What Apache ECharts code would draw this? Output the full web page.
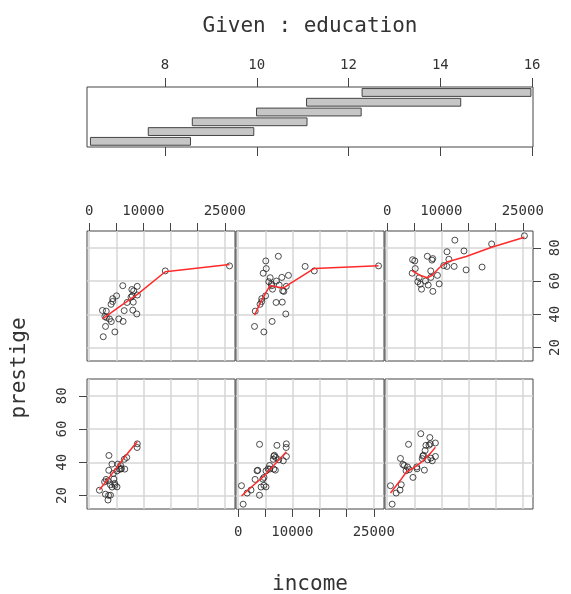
<!DOCTYPE html>
<html>
<head>
<meta charset="utf-8">
<script src="https://cdn.jsdelivr.net/npm/echarts@6/dist/echarts.min.js"></script>
<style>
  html, body { margin: 0; padding: 0; background: #fff; }
  #chart { width: 571px; height: 594px; }
</style>
</head>
<body>
<div id="chart"></div>
<script>
// coplot: prestige ~ income | education (6 overlapping education intervals)

const education = [13.11, 12.26, 12.77, 11.42, 14.62, 15.64, 15.09, 15.44, 14.52, 14.64,
  12.39, 12.30, 13.83, 14.44, 14.36, 14.21, 15.77, 14.15, 15.22, 14.50,
  15.97, 13.62, 15.08, 15.96, 15.94, 14.71, 12.46, 9.45, 13.62, 15.21,
  12.79, 11.09, 12.71, 11.44, 11.59, 11.49, 11.32, 10.64, 11.36, 9.17,
  12.09, 11.04, 9.22, 10.07, 10.51, 11.20, 11.13, 11.43, 11.00, 9.84,
  11.13, 10.05, 9.62, 9.93, 11.60, 11.09, 11.03, 9.47, 10.93, 7.74,
  8.50, 10.57, 9.46, 7.33, 7.11, 7.58, 6.84, 8.60, 8.88, 7.54,
  7.64, 7.64, 7.42, 6.69, 6.74, 10.09, 8.81, 8.40, 7.92, 8.43,
  8.78, 8.76, 10.29, 6.38, 8.10, 10.10, 6.67, 9.05, 9.93, 8.24,
  6.92, 6.60, 7.81, 8.33, 7.52, 12.27, 8.49, 7.58, 7.93, 8.37,
  10.00, 8.55];

const income = [12351, 25879, 9271, 8865, 8403, 11030, 8258, 14163, 11377, 11023,
  5902, 7059, 8425, 8049, 7405, 6336, 19263, 6112, 9593, 4686,
  12480, 5648, 8034, 25308, 14558, 17498, 4614, 3485, 5092, 10432,
  5180, 6197, 7562, 8206, 4036, 3148, 4348, 2448, 4330, 4761,
  3016, 2901, 5511, 3739, 3161, 4741, 5052, 6259, 4075, 7482,
  8780, 2594, 918, 2370, 8131, 6992, 7956, 8895, 8891, 3116,
  3930, 7869, 611, 3000, 3472, 3582, 3643, 1656, 6860, 4199,
  5134, 5134, 1890, 4443, 3485, 8043, 6686, 6565, 6477, 5811,
  6573, 3942, 5449, 2847, 5795, 7716, 4696, 8316, 7147, 8880,
  5299, 5959, 4549, 6928, 3910, 14032, 8845, 5562, 4224, 4753,
  6462, 3617];

const prestige = [68.8, 69.1, 63.4, 56.8, 73.5, 77.6, 72.6, 78.1, 73.1, 68.8,
  62.0, 60.0, 53.8, 62.2, 74.9, 55.1, 82.3, 58.1, 58.3, 72.8,
  84.6, 59.6, 66.1, 87.2, 66.7, 68.4, 64.7, 34.9, 72.1, 69.3,
  67.5, 57.2, 57.6, 54.1, 46.0, 41.9, 49.4, 42.3, 47.7, 30.9,
  32.7, 38.7, 36.1, 37.2, 38.1, 29.4, 51.1, 35.7, 35.6, 41.5,
  40.2, 26.5, 14.8, 23.3, 47.3, 47.1, 51.1, 43.5, 51.6, 29.7,
  20.2, 54.9, 25.9, 20.8, 17.3, 20.1, 44.1, 21.5, 35.3, 38.9,
  25.2, 34.8, 23.2, 33.3, 28.8, 42.5, 44.2, 35.9, 41.8, 35.9,
  43.7, 50.8, 37.2, 28.2, 38.1, 50.3, 27.3, 40.9, 50.2, 51.1,
  38.9, 36.2, 29.9, 42.9, 26.5, 66.1, 48.9, 35.9, 25.1, 26.1,
  42.2, 35.2];

// education intervals (given panel), lowest first
const eduLo = [6.375, 7.635, 8.595, 9.995, 11.085, 12.295];
const eduHi = [8.555, 9.935, 11.095, 12.275, 14.445, 15.975];

// red smoother per panel (panel 1 = bottom left)
const smooth1 = [[1890, 23.5], [3500, 30], [5000, 36.5], [6500, 43], [8880, 52.5]];
const smooth2 = [[611, 19.7], [2500, 25.3], [4630, 31.3], [6800, 39], [8895, 46.3]];
const smooth3 = [[611, 21.5], [2400, 29], [3500, 34], [5000, 37], [6500, 40.5], [8000, 45.5], [8895, 49]];
const smooth4 = [[2448, 37.2], [4000, 40.8], [6000, 45.5], [8000, 50], [8891, 52], [14032, 65.6], [25879, 70]];
const smooth5 = [[3016, 39.5], [4330, 48.5], [5860, 57.3], [7000, 56.5], [8320, 55.8], [9271, 57.8], [12351, 64.2], [14032, 67.6], [25879, 69.2]];
const smooth6 = [[4614, 66.2], [6000, 63.5], [7400, 62], [8300, 63.5], [9600, 68], [11000, 71.5], [12480, 72.8], [14558, 74.8], [19263, 80.3], [25308, 86.3]];
const smooths = [smooth1, smooth2, smooth3, smooth4, smooth5, smooth6];

// ticks and ranges
const eduTicks = [8, 10, 12, 14, 16];
const incomeTicks = [0, 5000, 10000, 15000, 20000, 25000];
const incomeLabels = [0, 10000, 25000];
const prestigeTicks = [20, 40, 60, 80];
const eduRange = [6.3, 16.02];
const incomeRange = [-400, 26890];
const prestigeRange = [11.9, 90.1];

const FONT = 'DejaVu Sans Mono';
const TXT = '#333';
const BORDER = '#444';
const GRIDLINE = '#d6d6d6';

const panelLeft = [87, 236, 385];
const rowTop = [379, 231]; // bottom row, top row
const PW = 148, PH = 130;

const grids = [{ left: 87, top: 87, width: 446, height: 60, show: true,
  borderColor: BORDER, borderWidth: 1, outerBoundsMode: 'none' }];

const tickLabel = { fontFamily: FONT, fontSize: 14, color: TXT, formatter: v => String(v) };
const noLine = { show: false, onZero: false };

const xAxes = [
  { gridIndex: 0, type: 'value', min: eduRange[0], max: eduRange[1], position: 'top',
    axisLine: noLine,
    axisTick: { customValues: eduTicks, length: 9, lineStyle: { color: BORDER } },
    axisLabel: { ...tickLabel, customValues: eduTicks, margin: 15 },
    splitLine: { show: false } },
  { gridIndex: 0, type: 'value', min: eduRange[0], max: eduRange[1], position: 'bottom',
    axisLine: noLine,
    axisTick: { customValues: eduTicks, length: 9, lineStyle: { color: BORDER } },
    axisLabel: { show: false },
    splitLine: { show: false } }
];
const yAxes = [{ gridIndex: 0, type: 'value', min: 0.42, max: 6.56, show: false }];

const series = [{
  type: 'custom',
  xAxisIndex: 0, yAxisIndex: 0,
  data: eduLo.map((lo, i) => [lo, eduHi[i], i + 1]),
  renderItem: (params, api) => {
    const a = api.coord([api.value(0), api.value(2)]);
    const b = api.coord([api.value(1), api.value(2)]);
    const h = api.size([0, 0.8])[1];
    return {
      type: 'rect',
      shape: { x: a[0], y: a[1] - h / 2, width: b[0] - a[0], height: h },
      style: { fill: '#c6c6c6', stroke: BORDER, lineWidth: 1 }
    };
  }
}];

for (let p = 0; p < 6; p++) {
  const row = Math.floor(p / 3), col = p % 3;
  grids.push({ left: panelLeft[col], top: rowTop[row], width: PW, height: PH, show: true,
    borderColor: BORDER, borderWidth: 1, outerBoundsMode: 'none' });
  const showX = (row === 1 && col !== 1) || (row === 0 && col === 1);
  const showY = (row === 1 && col === 2) || (row === 0 && col === 0);
  xAxes.push({
    gridIndex: p + 1, type: 'value', min: incomeRange[0], max: incomeRange[1],
    position: row === 1 ? 'top' : 'bottom',
    axisLine: noLine,
    axisTick: { show: showX, customValues: incomeTicks, length: 8, lineStyle: { color: BORDER } },
    axisLabel: { show: showX, ...tickLabel, customValues: incomeLabels, margin: row === 1 ? 13 : 16 },
    splitLine: { show: true, lineStyle: { color: GRIDLINE, width: 1.5 } }
  });
  yAxes.push({
    gridIndex: p + 1, type: 'value', min: prestigeRange[0], max: prestigeRange[1],
    position: row === 1 ? 'right' : 'left',
    axisLine: noLine,
    axisTick: { show: showY, customValues: prestigeTicks, length: 8, lineStyle: { color: BORDER } },
    axisLabel: { show: showY, ...tickLabel, customValues: prestigeTicks, rotate: 90, margin: row === 1 ? 15 : 18 },
    splitLine: { show: true, lineStyle: { color: GRIDLINE, width: 1.5 } }
  });
  const pts = [];
  for (let i = 0; i < education.length; i++) {
    if (education[i] >= eduLo[p] && education[i] <= eduHi[p]) pts.push([income[i], prestige[i]]);
  }
  series.push({
    type: 'scatter', xAxisIndex: p + 2, yAxisIndex: p + 1, data: pts,
    symbol: 'circle', symbolSize: 6,
    itemStyle: { color: 'rgba(0,0,0,0)', borderColor: '#222', borderWidth: 1 }
  });
  series.push({
    type: 'line', xAxisIndex: p + 2, yAxisIndex: p + 1, data: smooths[p],
    showSymbol: false, smooth: false,
    lineStyle: { color: '#ff2a2a', width: 1.5 }
  });
}

const chart = echarts.init(document.getElementById('chart'), null, { renderer: 'canvas' });
chart.setOption({
  animation: false,
  backgroundColor: '#fff',
  grid: grids,
  xAxis: xAxes,
  yAxis: yAxes,
  series: series,
  graphic: [
    { type: 'text', x: 310, y: 27, style: { text: 'Given : education', font: '21px ' + FONT,
      fill: TXT, align: 'center', verticalAlign: 'middle' } },
    { type: 'text', x: 310, y: 585, style: { text: 'income', font: '21px ' + FONT,
      fill: TXT, align: 'center', verticalAlign: 'middle' } },
    { type: 'text', x: 20, y: 368, rotation: Math.PI / 2, style: { text: 'prestige', font: '21px ' + FONT,
      fill: TXT, align: 'center', verticalAlign: 'middle' } }
  ]
});
</script>
</body>
</html>
